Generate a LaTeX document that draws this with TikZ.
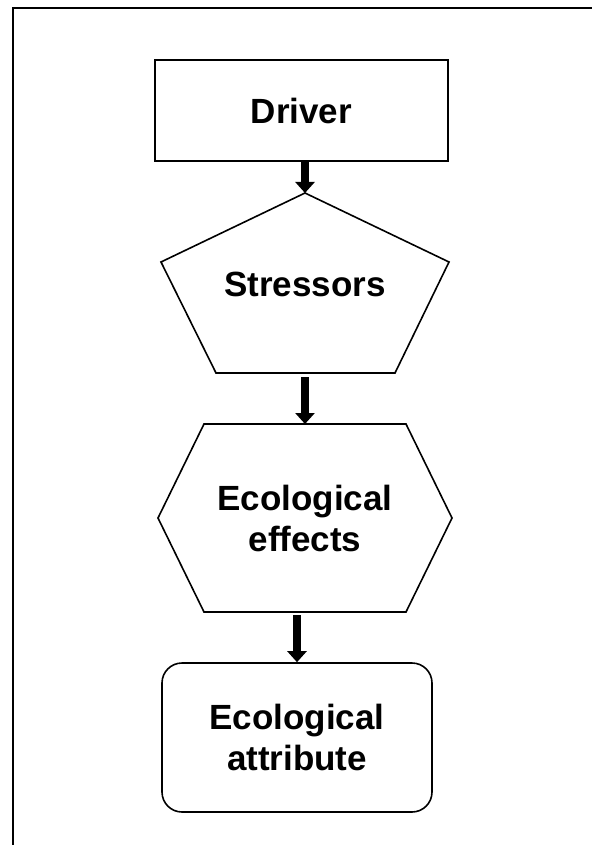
\documentclass[tikz,border=0pt]{standalone}
\usepackage{fontspec}
\setmainfont{Liberation Sans}
\usepackage{tikz}
\usetikzlibrary{arrows.meta,calc,positioning}

\begin{document}
\begin{tikzpicture}[x=0.5pt, y=-0.5pt,
    label text/.style={font=\bfseries\fontsize{17.5}{20.5}\selectfont, align=center, inner sep=0pt},
    outline/.style={line width=0.8pt, line join=miter},
    flow/.style={line width=3.6pt, -{Triangle[width=9.5pt, length=5.5pt]}}]
    \useasboundingbox (0,0) rectangle (592,845);

    % Frame (only top and left edges in view)
    \draw[line width=1pt] (13,845) |- (592,8);

    % Driver box
    \node[label text, draw, line width=0.8pt, minimum width=146.5pt, minimum height=50.5pt] (driver) at (301.5,110.5) {Driver};

    % Stressors pentagon
    \node[label text] (stressors) at (305,284) {Stressors};
    \draw[outline] ($(stressors)+(0,-91)$) coordinate (stress top)
        -- ($(stressors)+(144,-22)$) -- ($(stressors)+(90,89)$)
        -- ($(stressors)+(-89,89)$) -- ($(stressors)+(-144,-22)$) -- cycle;
    \coordinate (stress bottom) at ($(stressors)+(0,93)$);

    % Ecological effects hexagon
    \node[label text] (effects) at (305,518) {Ecological\\effects};
    \draw[outline] ($(effects)+(-101,-94)$) -- ($(effects)+(101,-94)$) coordinate[pos=0.5] (eff top)
        -- ($(effects)+(147,0)$) -- ($(effects)+(101,94)$)
        -- ($(effects)+(-101,94)$) coordinate[pos=0.5] (eff bottom)
        -- ($(effects)+(-147,0)$) -- cycle;

    % Ecological attribute box
    \node[label text, draw, line width=0.8pt, rounded corners=10pt, minimum width=135pt, minimum height=74.5pt] (attribute) at (297,737.5) {Ecological\\attribute};

    % Arrows
    \draw[flow] (driver.south -| stress top) -- (stress top);
    \draw[flow] (stress bottom) -- (eff top);
    \draw[flow] ($(eff bottom -| attribute.north)+(0,3)$) -- (attribute.north);
\end{tikzpicture}
\end{document}
